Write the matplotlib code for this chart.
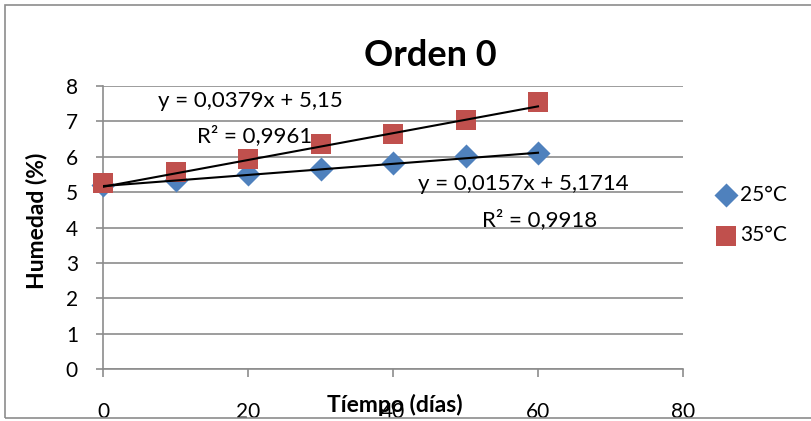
import matplotlib
matplotlib.use("Agg")
import matplotlib.pyplot as plt
from matplotlib.patches import Rectangle
import numpy as np

plt.rcParams['font.family'] = ['Lato', 'DejaVu Sans']

# Days of storage and measured moisture
tiempo = [0, 10, 20, 30, 40, 50, 60]
hum_25 = [5.20, 5.33, 5.52, 5.65, 5.83, 6.02, 6.12]
hum_35 = [5.25, 5.57, 5.95, 6.35, 6.64, 7.04, 7.55]

# Linear trendlines (slope, intercept, R²)
fit_25 = (0.0157, 5.1714, 0.9918)
fit_35 = (0.0379, 5.15, 0.9961)

x_ticks = [0, 20, 40, 60, 80]
y_ticks = [0, 1, 2, 3, 4, 5, 6, 7, 8]

blue = '#4F81BD'
red = '#C0504D'
grid_gray = '#8C8C8C'

W, H = 812, 421
fig = plt.figure(figsize=(W / 100, H / 100), dpi=100)
ax = fig.add_axes([103 / W, 1 - 369 / H, (683 - 103) / W, (369 - 86) / H])

ax.set_xlim(0, 80)
ax.set_ylim(0, 8)
ax.set_xticks(x_ticks)
ax.set_yticks(y_ticks)

ax.grid(axis='y', color=grid_gray, linewidth=1.2)
ax.set_axisbelow(True)
for s in ['top', 'right']:
    ax.spines[s].set_visible(False)
for s in ['left', 'bottom']:
    ax.spines[s].set_color(grid_gray)
    ax.spines[s].set_linewidth(1.2)

ax.tick_params(axis='x', direction='out', length=6, width=1.2, color=grid_gray,
               pad=18, labelsize=15)
ax.tick_params(axis='y', direction='out', length=5, width=1.2, color=grid_gray,
               pad=13, labelsize=15)

ax.scatter(tiempo, hum_25, marker='D', s=150, color=blue, zorder=3,
           linewidths=0, label='25°C', clip_on=False)
ax.scatter(tiempo, hum_35, marker='s', s=210, color=red, zorder=3,
           linewidths=0, label='35°C', clip_on=False)

xf = np.array([0, 60])
for m, b, _ in (fit_25, fit_35):
    ax.plot(xf, m * xf + b, color='black', linewidth=1.5, zorder=4)

def fmt(v, d):
    return f"{v:.{d}f}".replace('.', ',')

eq_size = 16
ax.text(250 / W, 1 - 101 / H, f"y = {fmt(fit_35[0], 4)}x + {fmt(fit_35[1], 2)}",
        transform=fig.transFigure, ha='center', va='center', fontsize=eq_size)
ax.text(312 / W, 1 - 136 / H, f"R² = {fmt(fit_35[2], 4)}",
        transform=fig.transFigure, ha='right', va='center', fontsize=eq_size)
ax.text(523 / W, 1 - 184 / H, f"y = {fmt(fit_25[0], 4)}x + {fmt(fit_25[1], 4)}",
        transform=fig.transFigure, ha='center', va='center', fontsize=eq_size)
ax.text(597 / W, 1 - 220 / H, f"R² = {fmt(fit_25[2], 4)}",
        transform=fig.transFigure, ha='right', va='center', fontsize=eq_size)

fig.text(430 / W, 1 - 55 / H, 'Orden 0', ha='center', va='center',
         fontsize=26, fontweight='bold')
fig.text(37 / W, 1 - 221 / H, 'Humedad (%)', ha='center', va='center',
         rotation=90, fontsize=16.5, fontweight='bold')
fig.text(395 / W, 1 - 405 / H, 'Tíempo (días)', ha='center', va='center',
         fontsize=16.5, fontweight='bold')

leg = ax.legend(loc='center left', bbox_to_anchor=(705 / W, 1 - 215 / H),
                bbox_transform=fig.transFigure, frameon=False, fontsize=15,
                handletextpad=0.2, labelspacing=1.0, handlelength=1.0,
                borderpad=0)

fig.add_artist(Rectangle((5 / W, 3 / H), 1.0, 1 - 8 / H,
                         transform=fig.transFigure, fill=False,
                         edgecolor='#8C8C8C', linewidth=1.2))

fig.savefig('out.png', dpi=100)
